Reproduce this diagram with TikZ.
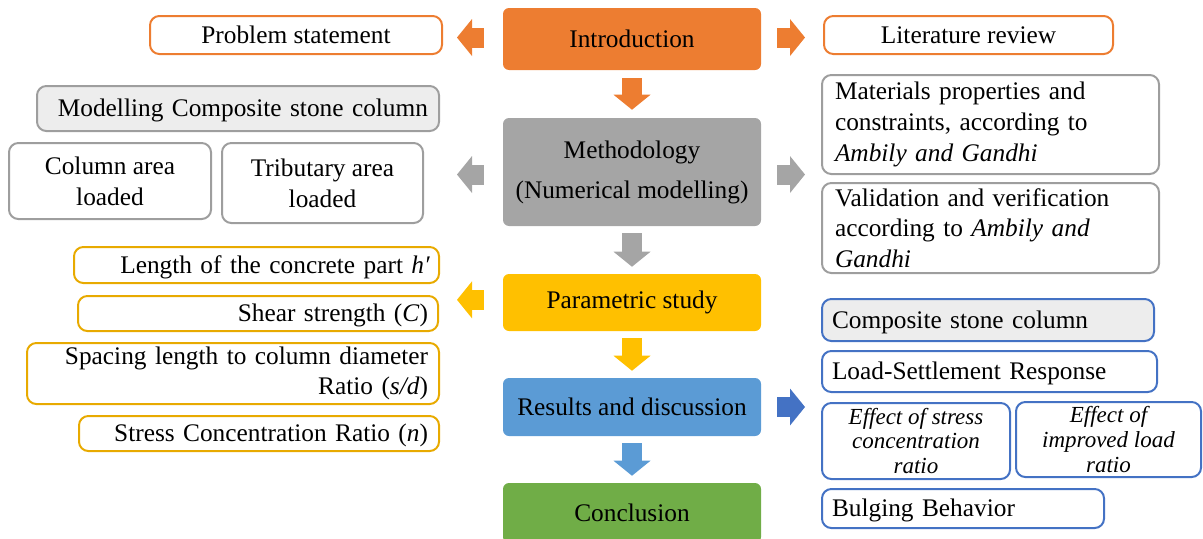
\documentclass[tikz,border=0pt]{standalone}
\usepackage{fontspec}
\setmainfont{Liberation Serif}
\usetikzlibrary{arrows.meta,calc}
\definecolor{cOr}{HTML}{ED7D31}
\definecolor{cGr}{HTML}{A5A5A5}
\definecolor{cGrB}{HTML}{9E9E9E}
\definecolor{cGo}{HTML}{FFC000}
\definecolor{cGoB}{HTML}{E8AA00}
\definecolor{cLb}{HTML}{5B9BD5}
\definecolor{cDb}{HTML}{4472C4}
\definecolor{cGn}{HTML}{70AD47}
\definecolor{cLg}{HTML}{EDEDED}
\begin{document}
\begin{tikzpicture}[x=0.75pt,y=-0.75pt,
  every node/.style={font=\fontsize{19}{23}\selectfont},
  mainbox/.style={rounded corners=4.5pt, minimum width=193.5pt, inner sep=0pt, align=center},
  side/.style={draw, line width=1.5pt, rounded corners=7pt, fill=white, inner ysep=0pt},
  rside/.style={side, align=right},
  lside/.style={side, align=left},
  cside/.style={side, align=center, inner xsep=0pt},
  oneline/.style={text height=15pt, text depth=3pt},
  effect/.style={cside, font=\fontsize{17.25}{18.5}\selectfont\itshape},
  barrow/.style={line width=15pt, -{Triangle[length=11.25pt 0, width=27.75pt 0, line width=0pt]}},
]
\useasboundingbox (0,0) rectangle (1203,539);
\clip (0,0) rectangle (1203,539);

% central column
\node[mainbox, fill=cOr, minimum height=46.5pt] (intro) at (632,39) {Introduction};
\node[mainbox, fill=cGr, minimum height=81pt] (meth) at (632,172) {Methodology\\[7pt](Numerical modelling)};
\node[mainbox, fill=cGo, minimum height=42.75pt] (param) at (632,302.5) {Parametric study};
\node[mainbox, fill=cLb, minimum height=43.5pt] (res) at (632,407) {Results and discussion};
\node[mainbox, fill=cGn, minimum height=45pt] (concl) at (632,513) {Conclusion};

% left side
\node[cside, draw=cOr, minimum width=219pt, minimum height=28.5pt] (prob) at (296,35) {Problem statement};
\node[rside, oneline, draw=cGrB, fill=cLg, text width=285pt, inner xsep=8.25pt, minimum height=33.75pt] (model) at (238,108.5) {Modelling Composite stone column};
\node[cside, draw=cGrB, minimum width=151.5pt, minimum height=57pt] (colarea) at (110,181) {Column area\\loaded};
\node[cside, draw=cGrB, minimum width=150.75pt, minimum height=60pt] (trib) at (322.5,183) {Tributary area\\loaded};
\node[rside, oneline, draw=cGoB, text width=260.25pt, inner xsep=6.75pt, minimum height=27pt] (length) at (256.5,265) {Length of the concrete part \textit{h′}};
\node[rside, oneline, draw=cGoB, text width=255pt, inner xsep=7.5pt, minimum height=26.25pt] (shear) at (258,313.5) {Shear strength (\textit{C})};
\node[rside, draw=cGoB, text width=292.5pt, inner xsep=8.25pt, minimum height=45.75pt] (spacing) at (233,373.5) {Spacing length to column diameter\\Ratio (\textit{s/d})};
\node[rside, oneline, draw=cGoB, text width=253.5pt, inner xsep=8.25pt, minimum height=26.25pt] (stress) at (259,433.5) {Stress Concentration Ratio (\textit{n})};

% right side
\node[cside, draw=cOr, minimum width=216.75pt, minimum height=28.5pt] (lit) at (968.5,35) {Literature review};
\node[lside, draw=cGrB, text width=233.25pt, inner xsep=9.75pt, minimum height=74.25pt] (mat) at (990.5,124.5) {Materials properties and\\constraints, according to\\\textit{Ambily and Gandhi}};
\node[lside, draw=cGrB, text width=233.25pt, inner xsep=9.75pt, minimum height=67.5pt] (val) at (990.5,228) {Validation and verification\\according to \textit{Ambily and}\\\textit{Gandhi}};
\node[lside, oneline, draw=cDb, fill=cLg, text width=234pt, inner xsep=7.5pt, minimum height=31.5pt] (comp) at (988,320) {Composite stone column};
\node[lside, oneline, draw=cDb, text width=236.25pt, inner xsep=7.5pt, minimum height=30.75pt] (load) at (989.5,371.5) {Load-Settlement Response};
\node[effect, draw=cDb, minimum width=141pt, minimum height=57pt] (eff1) at (916,441) {Effect of stress\\concentration\\ratio};
\node[effect, draw=cDb, minimum width=138.75pt, minimum height=56.25pt] (eff2) at (1108.5,439.5) {Effect of\\improved load\\ratio};
\node[lside, oneline, draw=cDb, text width=196.5pt, inner xsep=7.5pt, minimum height=29.25pt] (bulg) at (963,508.5) {Bulging Behavior};

% down arrows
\draw[barrow, cOr, shorten <=6pt, shorten >=6pt] (intro.south) -- (meth.north);
\draw[barrow, cGr, shorten <=5.25pt, shorten >=5.25pt] (meth.south) -- (param.north);
\draw[barrow, cGo, shorten <=5.25pt, shorten >=5.25pt] (param.south) -- (res.north);
\draw[barrow, cLb, shorten <=5.25pt, shorten >=5.25pt] (res.south) -- (concl.north);

% side arrows
\draw[barrow, cOr, shorten <=14.25pt, shorten >=10.5pt] ([yshift=1.1pt]intro.west) -- ([yshift=1.1pt]intro.west -| prob.east);
\draw[barrow, cOr, shorten <=12pt, shorten >=13.5pt] ([yshift=1.1pt]intro.east) -- ([yshift=1.1pt]intro.east -| lit.west);
\draw[barrow, cGr, shorten <=14.25pt, shorten >=24.75pt] ([yshift=-1.9pt]meth.west) -- ([yshift=-1.9pt]meth.west -| trib.east);
\draw[barrow, cGr, shorten <=12pt, shorten >=12pt] ([yshift=-1.9pt]meth.east) -- ([yshift=-1.9pt]meth.east -| mat.west);
\draw[barrow, cGo, shorten <=14.25pt, shorten >=13.5pt] ([yshift=2pt]param.west) -- ([yshift=2pt]param.west -| shear.east);
\draw[barrow, cDb, shorten <=12pt, shorten >=12pt] (res.east) -- (res.east -| comp.west);
\end{tikzpicture}
\end{document}
